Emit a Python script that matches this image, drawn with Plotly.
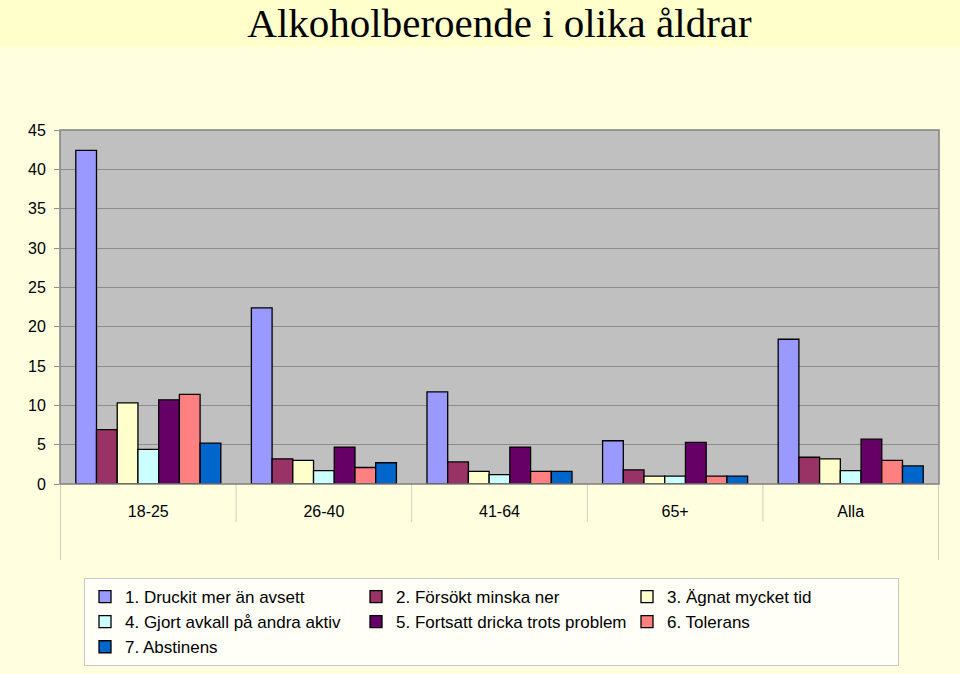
import plotly.graph_objects as go

categories = ["18-25", "26-40", "41-64", "65+", "Alla"]
series_names = [
    "1. Druckit mer än avsett",
    "2. Försökt minska ner",
    "3. Ägnat mycket tid",
    "4. Gjort avkall på andra aktiv",
    "5. Fortsatt dricka trots problem",
    "6. Tolerans",
    "7. Abstinens",
]
s1 = [42.4, 22.4, 11.7, 5.5, 18.4]
s2 = [6.9, 3.2, 2.8, 1.8, 3.4]
s3 = [10.3, 3.0, 1.6, 1.0, 3.2]
s4 = [4.4, 1.7, 1.2, 1.0, 1.7]
s5 = [10.7, 4.7, 4.7, 5.3, 5.7]
s6 = [11.4, 2.1, 1.6, 1.0, 3.0]
s7 = [5.2, 2.7, 1.6, 1.0, 2.3]
series_values = [s1, s2, s3, s4, s5, s6, s7]
colors = ["#9999FF", "#993366", "#FFFFCC", "#CCFFFF", "#660066", "#FF8080", "#0066CC"]
y_ticks = [0, 5, 10, 15, 20, 25, 30, 35, 40, 45]

W, H = 960, 674
ML, MR, MT, MB = 60, 21, 130, 190
plot_h = H - MT - MB

fig = go.Figure()
for name, vals, col in zip(series_names, series_values, colors):
    fig.add_trace(go.Bar(
        x=categories, y=vals, name=name,
        marker=dict(color=col, line=dict(color="#000000", width=1.3)),
    ))

def py(px_below):
    return -px_below / plot_h

shapes = []
# title band
shapes.append(dict(type="rect", xref="paper", yref="paper",
                   x0=-ML / (W - ML - MR), x1=1 + MR / (W - ML - MR),
                   y0=1 + (MT - 47) / plot_h, y1=1 + MT / plot_h + 0.01,
                   fillcolor="#FFFFCC", line=dict(width=0), layer="below"))
# category dividers below axis
for i in range(len(categories) + 1):
    b = i - 0.5
    depth = 76 if i in (0, len(categories)) else 38
    shapes.append(dict(type="line", xref="x", yref="paper", x0=b, x1=b,
                       y0=0, y1=py(depth), line=dict(color="#CFCFBF", width=1)))
# plot border
shapes.append(dict(type="rect", xref="paper", yref="paper", x0=0, x1=1, y0=0, y1=1,
                   line=dict(color="#808080", width=1.5)))

fig.update_layout(
    width=W, height=H,
    margin=dict(l=ML, r=MR, t=MT, b=MB),
    paper_bgcolor="#FFFFE0",
    plot_bgcolor="#C0C0C0",
    barmode="group",
    bargap=0.174,
    bargroupgap=0,
    font=dict(family="Liberation Sans, Arial, sans-serif", size=16, color="#000000"),
    title=dict(text="Alkoholberoende i olika åldrar", x=0.5, xanchor="center",
               xref="paper", y=1 - 23 / H, yref="container", yanchor="middle",
               font=dict(family="Liberation Serif, Times New Roman, serif", size=41, color="#000000")),
    xaxis=dict(showgrid=False, ticks="", showline=False, tickfont=dict(size=16),
               ticklabelstandoff=16),
    yaxis=dict(range=[0, 45], tickvals=y_ticks, showgrid=True, gridcolor="#8C8C8C",
               gridwidth=1, ticks="outside", ticklen=5, tickcolor="#8C8C8C",
               ticklabelstandoff=5,
               showline=False, zeroline=False, tickfont=dict(size=16)),
    legend=dict(orientation="h", x=84 / W, xref="container", xanchor="left",
                y=1 - 578 / H, yref="container", yanchor="top",
                bgcolor="#FFFFF8", bordercolor="#C8C8C8", borderwidth=1,
                entrywidth=226, entrywidthmode="pixels",
                font=dict(size=17), traceorder="normal"),
    shapes=shapes,
    showlegend=True,
)

fig.write_html("out.html")
